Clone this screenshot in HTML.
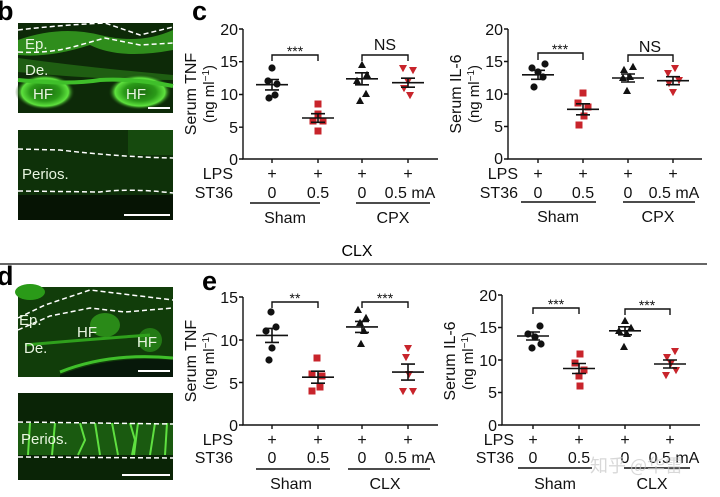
<!DOCTYPE html>
<html><head><meta charset="utf-8"><style>
html,body{margin:0;padding:0;background:#fff;}
svg{display:block;font-family:"Liberation Sans",Arial,sans-serif;}
</style></head><body>
<svg width="720" height="497" viewBox="0 0 720 497" xmlns="http://www.w3.org/2000/svg">
<defs>
<circle id="ci" r="3.6" fill="#111"/>
<rect id="sq" x="-3.5" y="-3.5" width="7" height="7" fill="#c8242b"/>
<path id="tr" d="M0,-4.2 L4,3 L-4,3 Z" fill="#111"/>
<path id="it" d="M0,4.2 L4,-3 L-4,-3 Z" fill="#c8242b"/>
<radialGradient id="hf" cx="50%" cy="50%" r="50%"><stop offset="0" stop-color="#1c6a10"/><stop offset="0.5" stop-color="#2a9a18"/><stop offset="0.78" stop-color="#5ee23e"/><stop offset="1" stop-color="#0c2a06" stop-opacity="0"/></radialGradient>
</defs>

<g font-weight="bold" font-size="27" fill="#000">
<text x="-3" y="20">b</text>
<text x="192" y="20">c</text>
<text x="-3" y="285">d</text>
<text x="202" y="290">e</text>
</g>

<!-- b images -->
<rect x="18" y="23" width="155" height="90" fill="#0d2a08"/>
<path d="M18,40 Q60,25 100,35 T173,30 L173,50 Q120,60 90,45 Q50,58 18,55Z" fill="#2f8d1c"/>
<path d="M18,58 Q70,65 120,70 L173,75 L173,80 Q100,80 18,72Z" fill="#1f5e12"/>
<ellipse cx="45" cy="92" rx="30" ry="18" fill="url(#hf)"/>
<ellipse cx="140" cy="92" rx="32" ry="18" fill="url(#hf)"/>
<path d="M18,80 Q70,85 100,80 Q130,78 173,86" stroke="#3fbf2a" stroke-width="4" fill="none"/>
<path d="M18,30 Q60,25 105,23 L140,35 L173,27" stroke="#fff" stroke-width="1.5" stroke-dasharray="5,3" fill="none"/>
<path d="M18,52 Q50,54 80,45 L105,38 L140,45 L173,43" stroke="#fff" stroke-width="1.5" stroke-dasharray="5,3" fill="none"/>
<line x1="148" y1="108" x2="170" y2="108" stroke="#fff" stroke-width="2"/>
<g fill="#e8f5e0" font-size="15"><text x="25" y="49">Ep.</text><text x="25" y="75">De.</text><text x="33" y="99">HF</text><text x="126" y="99">HF</text></g>

<rect x="18" y="130" width="155" height="90" fill="#0e3109"/>
<rect x="18" y="195" width="155" height="25" fill="#061404"/>
<rect x="128" y="130" width="45" height="25" fill="#164a0e"/>
<path d="M18,149 L60,150 Q120,157 173,158" stroke="#fff" stroke-width="1.5" stroke-dasharray="5,3" fill="none"/>
<path d="M18,191 L100,192 Q130,188 173,193" stroke="#fff" stroke-width="1.5" stroke-dasharray="5,3" fill="none"/>
<line x1="124" y1="215" x2="170" y2="215" stroke="#fff" stroke-width="2"/>
<text x="22" y="179" fill="#e8f5e0" font-size="15">Perios.</text>

<!-- d images -->
<rect x="18" y="287" width="155" height="90" fill="#113d0a"/>
<ellipse cx="30" cy="292" rx="15" ry="8" fill="#2a9a18"/>
<ellipse cx="105" cy="325" rx="15" ry="12" fill="#2a8a18"/>
<ellipse cx="150" cy="340" rx="12" ry="12" fill="#237a15"/>
<path d="M60,375 Q110,355 173,360 L173,377 L60,377Z" fill="#07180a"/>
<path d="M60,372 Q110,352 173,358" stroke="#3fbf2a" stroke-width="3" fill="none"/>
<path d="M25,345 Q80,340 150,335" stroke="#2fa01c" stroke-width="3" fill="none"/>
<path d="M18,318 L45,305 L90,290 L173,300" stroke="#fff" stroke-width="1.5" stroke-dasharray="5,3" fill="none"/>
<path d="M18,330 L50,316 L90,308 L125,312 L173,308" stroke="#fff" stroke-width="1.5" stroke-dasharray="5,3" fill="none"/>
<line x1="138" y1="371" x2="170" y2="371" stroke="#fff" stroke-width="2"/>
<g fill="#e8f5e0" font-size="15"><text x="19" y="325">Ep.</text><text x="24" y="353">De.</text><text x="77" y="337">HF</text><text x="137" y="347">HF</text></g>

<rect x="18" y="393" width="155" height="87" fill="#0a2406"/>
<rect x="18" y="423" width="155" height="32" fill="#1a5a10"/>
<g stroke="#5fe040" stroke-width="2" fill="none">
<path d="M30,423 L28,455"/><path d="M55,423 L52,455"/><path d="M80,423 L85,440 L78,455"/><path d="M95,423 L100,455"/><path d="M112,423 L118,455"/><path d="M130,423 L135,440 L132,455"/><path d="M138,423 L134,455"/><path d="M155,423 L150,455"/><path d="M167,423 L165,455"/>
</g>
<path d="M18,422 L173,424" stroke="#fff" stroke-width="1.5" stroke-dasharray="5,3"/>
<path d="M18,457 L173,458" stroke="#fff" stroke-width="1.5" stroke-dasharray="5,3"/>
<line x1="122" y1="475" x2="170" y2="475" stroke="#fff" stroke-width="2"/>
<text x="21" y="444" fill="#e8f5e0" font-size="15">Perios.</text>

<text x="357" y="256" font-size="16" text-anchor="middle">CLX</text>
<line x1="0" y1="264" x2="707" y2="264" stroke="#333" stroke-width="1.5"/>

<g font-size="16" fill="#111" stroke="none">

<!-- c TNF -->
<g stroke="#111" stroke-width="1.4" fill="none">
<path d="M243,29 V159 H438"/>
<path d="M239,29H243M239,61.7H243M239,94.5H243M239,127.2H243M239,159H243"/>
<path d="M272,159v4M318,159v4M362,159v4M408,159v4"/>
<path d="M250,203H320M356,203H430"/>
<path d="M272,61V55H318V61"/><path d="M362,61V55H408V61"/>
</g>
<g text-anchor="end"><text x="238" y="35">20</text><text x="238" y="67">15</text><text x="238" y="100">10</text><text x="238" y="133">5</text><text x="238" y="165">0</text></g>
<text transform="translate(196,94) rotate(-90)" text-anchor="middle" font-size="16">Serum TNF</text>
<text transform="translate(214,94) rotate(-90)" text-anchor="middle" font-size="15">(ng ml<tspan font-size="10" dy="-5">−1</tspan><tspan dy="5">)</tspan></text>
<text x="295" y="56" text-anchor="middle" font-size="14">***</text>
<text x="385" y="50" text-anchor="middle" font-size="16">NS</text>
<g text-anchor="middle"><text x="272" y="179">+</text><text x="318" y="179">+</text><text x="362" y="179">+</text><text x="408" y="179">+</text>
<text x="272" y="198">0</text><text x="318" y="198">0.5</text><text x="362" y="198">0</text><text x="410" y="198">0.5 mA</text>
<text x="285" y="223">Sham</text><text x="393" y="223">CPX</text></g>
<g text-anchor="end"><text x="233" y="179">LPS</text><text x="233" y="198">ST36</text></g>

<!-- c IL-6 -->
<g stroke="#111" stroke-width="1.4" fill="none">
<path d="M508,29 V159 H702"/>
<path d="M504,29H508M504,61.5H508M504,94H508M504,126.5H508M504,159H508"/>
<path d="M538,159v4M583,159v4M628,159v4M673,159v4"/>
<path d="M521,202H596M623,202H695"/>
<path d="M538,60V53H583V60"/><path d="M628,62V55H673V62"/>
</g>
<g text-anchor="end"><text x="503" y="35">20</text><text x="503" y="67">15</text><text x="503" y="100">10</text><text x="503" y="132">5</text><text x="503" y="164">0</text></g>
<text transform="translate(461,94) rotate(-90)" text-anchor="middle" font-size="16">Serum IL-6</text>
<text transform="translate(479,94) rotate(-90)" text-anchor="middle" font-size="15">(ng ml<tspan font-size="10" dy="-5">−1</tspan><tspan dy="5">)</tspan></text>
<text x="560" y="54" text-anchor="middle" font-size="14">***</text>
<text x="650" y="52" text-anchor="middle" font-size="16">NS</text>
<g text-anchor="middle"><text x="538" y="179">+</text><text x="583" y="179">+</text><text x="628" y="179">+</text><text x="673" y="179">+</text>
<text x="538" y="198">0</text><text x="583" y="198">0.5</text><text x="628" y="198">0</text><text x="674" y="198">0.5 mA</text>
<text x="558" y="222">Sham</text><text x="658" y="222">CPX</text></g>
<g text-anchor="end"><text x="518" y="179">LPS</text><text x="518" y="198">ST36</text></g>

<!-- e TNF -->
<g stroke="#111" stroke-width="1.4" fill="none">
<path d="M243,297 V425 H438"/>
<path d="M239,297H243M239,340H243M239,382.5H243M239,425H243"/>
<path d="M272,425v4M318,425v4M362,425v4M408,425v4"/>
<path d="M256,469H330M348,469H430"/>
<path d="M272,308V302H318V308"/><path d="M362,308V302H408V308"/>
</g>
<g text-anchor="end"><text x="238" y="303">15</text><text x="238" y="346">10</text><text x="238" y="389">5</text><text x="238" y="431">0</text></g>
<text transform="translate(196,361) rotate(-90)" text-anchor="middle" font-size="16">Serum TNF</text>
<text transform="translate(214,361) rotate(-90)" text-anchor="middle" font-size="15">(ng ml<tspan font-size="10" dy="-5">−1</tspan><tspan dy="5">)</tspan></text>
<text x="295" y="303" text-anchor="middle" font-size="14">**</text>
<text x="385" y="303" text-anchor="middle" font-size="14">***</text>
<g text-anchor="middle"><text x="272" y="445">+</text><text x="318" y="445">+</text><text x="362" y="445">+</text><text x="408" y="445">+</text>
<text x="272" y="463">0</text><text x="318" y="463">0.5</text><text x="362" y="463">0</text><text x="410" y="463">0.5 mA</text>
<text x="291" y="489">Sham</text><text x="385" y="489">CLX</text></g>
<g text-anchor="end"><text x="233" y="445">LPS</text><text x="233" y="463">ST36</text></g>

<!-- e IL-6 -->
<g stroke="#111" stroke-width="1.4" fill="none">
<path d="M502,295 V425 H700"/>
<path d="M498,295H502M498,327.5H502M498,360H502M498,392.5H502M498,425H502"/>
<path d="M533,425v4M579,425v4M625,425v4M670,425v4"/>
<path d="M518,468H592M624,468H690"/>
<path d="M533,314V308H579V314"/><path d="M625,315V309H670V315"/>
</g>
<g text-anchor="end"><text x="497" y="301">20</text><text x="497" y="333">15</text><text x="497" y="366">10</text><text x="497" y="398">5</text><text x="497" y="431">0</text></g>
<text transform="translate(455,361) rotate(-90)" text-anchor="middle" font-size="16">Serum IL-6</text>
<text transform="translate(473,361) rotate(-90)" text-anchor="middle" font-size="15">(ng ml<tspan font-size="10" dy="-5">−1</tspan><tspan dy="5">)</tspan></text>
<text x="556" y="309" text-anchor="middle" font-size="14">***</text>
<text x="647" y="310" text-anchor="middle" font-size="14">***</text>
<g text-anchor="middle"><text x="533" y="445">+</text><text x="579" y="445">+</text><text x="625" y="445">+</text><text x="670" y="445">+</text>
<text x="533" y="463">0</text><text x="579" y="463">0.5</text><text x="625" y="463">0</text><text x="674" y="463">0.5 mA</text>
<text x="555" y="489">Sham</text><text x="652" y="489">CLX</text></g>
<g text-anchor="end"><text x="514" y="445">LPS</text><text x="514" y="463">ST36</text></g>
<text x="590" y="472" font-size="18" fill="#c8c8c8" opacity="0.7" font-family="'Noto Sans CJK SC',sans-serif">知乎 @华雷</text>
</g>

<!-- data points -->
<use href="#ci" x="272" y="68"/><use href="#ci" x="268" y="81"/><use href="#ci" x="277" y="84"/><use href="#ci" x="275" y="95"/><use href="#ci" x="269" y="98"/>
<use href="#sq" x="318" y="104"/><use href="#sq" x="318" y="114"/><use href="#sq" x="313" y="121"/><use href="#sq" x="323" y="121"/><use href="#sq" x="318" y="131"/>
<use href="#tr" x="362" y="65"/><use href="#tr" x="367" y="75"/><use href="#tr" x="357" y="81"/><use href="#tr" x="366" y="94"/><use href="#tr" x="360" y="101"/>
<use href="#it" x="403" y="68"/><use href="#it" x="413" y="70"/><use href="#it" x="408" y="81"/><use href="#it" x="404" y="88"/><use href="#it" x="410" y="95"/>
<use href="#ci" x="545" y="64"/><use href="#ci" x="532" y="68"/><use href="#ci" x="538" y="72"/><use href="#ci" x="543" y="77"/><use href="#ci" x="534" y="87"/>
<use href="#sq" x="583" y="93"/><use href="#sq" x="578" y="103"/><use href="#sq" x="588" y="107"/><use href="#sq" x="584" y="116"/><use href="#sq" x="579" y="125"/>
<use href="#tr" x="633" y="67"/><use href="#tr" x="624" y="70"/><use href="#tr" x="630" y="77"/><use href="#tr" x="623" y="78"/><use href="#tr" x="627" y="91"/>
<use href="#it" x="675" y="68"/><use href="#it" x="668" y="73"/><use href="#it" x="679" y="80"/><use href="#it" x="669" y="83"/><use href="#it" x="673" y="92"/>
<use href="#ci" x="271" y="312"/><use href="#ci" x="276" y="327"/><use href="#ci" x="266" y="331"/><use href="#ci" x="272" y="348"/><use href="#ci" x="269" y="360"/>
<use href="#sq" x="317" y="358"/><use href="#sq" x="312" y="374"/><use href="#sq" x="322" y="376"/><use href="#sq" x="320" y="387"/><use href="#sq" x="312" y="391"/>
<use href="#tr" x="358" y="310"/><use href="#tr" x="366" y="318"/><use href="#tr" x="360" y="323"/><use href="#tr" x="364" y="331"/><use href="#tr" x="361" y="344"/>
<use href="#it" x="408" y="348"/><use href="#it" x="406" y="357"/><use href="#it" x="409" y="374"/><use href="#it" x="403" y="391"/><use href="#it" x="413" y="391"/>
<use href="#ci" x="540" y="326"/><use href="#ci" x="528" y="334"/><use href="#ci" x="535" y="337"/><use href="#ci" x="541" y="344"/><use href="#ci" x="532" y="348"/>
<use href="#sq" x="580" y="354"/><use href="#sq" x="575" y="363"/><use href="#sq" x="584" y="370"/><use href="#sq" x="579" y="376"/><use href="#sq" x="580" y="386"/>
<use href="#tr" x="625" y="321"/><use href="#tr" x="631" y="328"/><use href="#tr" x="619" y="331"/><use href="#tr" x="627" y="334"/><use href="#tr" x="624" y="347"/>
<use href="#it" x="675" y="351"/><use href="#it" x="667" y="357"/><use href="#it" x="671" y="363"/><use href="#it" x="676" y="370"/><use href="#it" x="666" y="375"/>

<g stroke="#111" stroke-width="1.6" fill="none">
<path d="M256,84.7H288M265,79.5H279M265,89.9H279M272,79.5V89.9"/>
<path d="M302,118H334M311,113.7H325M311,122.3H325M318,113.7V122.3"/>
<path d="M346,78.8H378M355,72.8H369M355,84.8H369M362,72.8V84.8"/>
<path d="M392,82.7H424M401,78.2H415M401,87.2H415M408,78.2V87.2"/>
<path d="M522,74.8H554M531,70.3H545M531,79.3H545M538,70.3V79.3"/>
<path d="M567,109.3H599M576,103.8H590M576,114.8H590M583,103.8V114.8"/>
<path d="M612,78H644M621,74H635M621,82H635M628,74V82"/>
<path d="M657,80.7H689M666,76.7H680M666,84.7H680M673,76.7V84.7"/>
<path d="M256,335.4H288M265,328.4H279M265,342.4H279M272,328.4V342.4"/>
<path d="M302,377.2H334M311,371.2H325M311,383.2H325M318,371.2V383.2"/>
<path d="M346,326.9H378M355,321.4H369M355,332.4H369M362,321.4V332.4"/>
<path d="M392,372.1H424M401,364.1H415M401,380.1H415M408,364.1V380.1"/>
<path d="M517,336H549M526,332H540M526,340H540M533,332V340"/>
<path d="M563,368.5H595M572,363.5H586M572,373.5H586M579,363.5V373.5"/>
<path d="M609,330.8H641M618,326.8H632M618,334.8H632M625,326.8V334.8"/>
<path d="M654,364H686M663,360H677M663,368H677M670,360V368"/>
</g>
</svg>
</body></html>
